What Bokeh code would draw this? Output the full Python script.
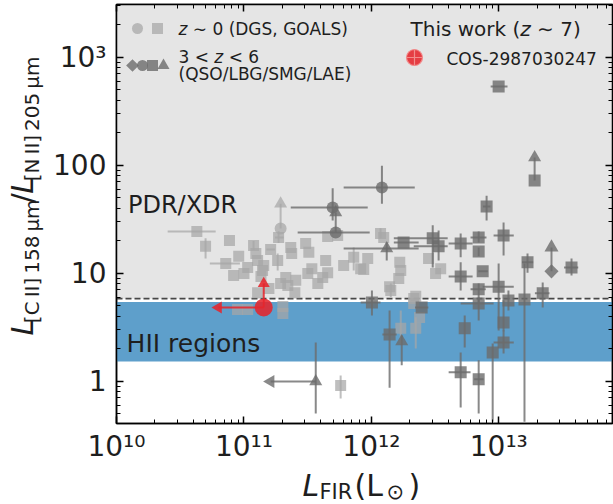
import math
import numpy as np
from bokeh.plotting import figure
from bokeh.layouts import row, column
from bokeh.models import (Range1d, LinearScale, LogAxis, FixedTicker, CustomJSTickFormatter,
                          BoxAnnotation, Span, Label)
from bokeh.embed import file_html
from bokeh.resources import INLINE

nan = float("nan")

# ---------------- data ----------------
# z ~ 0 : GOALS (light squares)
goals_x = [4.27e10, 5.0e10, 7.7e10, 9.1e10, 7.2e10, 8.3e10, 1.0e11, 1.07e11, 1.19e11, 1.24e11,
           1.28e11, 1.43e11, 1.40e11, 1.36e11, 1.62e11, 1.84e11, 1.87e11, 2.33e11, 2.37e11, 2.13e11,
           1.94e11, 2.21e11, 2.55e11, 2.51e11, 3.05e11, 3.23e11, 3.41e11, 3.17e11, 3.80e11, 4.38e11,
           4.54e11, 4.15e11, 6.06e11, 7.27e11, 8.24e11, 9.36e11, 8.71e11, 1.28e11, 1.57e11, 8.9e10,
           1.07e11, 2.02e11, 2.02e11, 4.54e11, 5.44e11, 1.18e12, 1.25e12, 1.67e12, 1.70e12, 1.64e12,
           1.39e12, 1.42e12, 2.81e12, 3.19e12, 3.50e12, 2.15e12, 2.23e12, 2.15e12, 2.39e12, 2.23e12,
           1.70e12, 5.74e11]
goals_y = [24.3, 17.7, 20.1, 14.3, 12.3, 9.5, 9.9, 11.3, 18.0, 15.2,
           13.1, 11.8, 10.6, 9.3, 16.6, 13.1, 21.4, 17.3, 15.2, 9.1,
           8.0, 7.7, 8.6, 6.6, 18.8, 15.6, 11.0, 9.9, 8.0, 13.1,
           10.1, 9.1, 11.8, 14.0, 11.0, 13.7, 10.8, 6.6, 7.2, 4.61,
           4.61, 4.92, 4.24, 21.9, 22.3, 23.3, 21.4, 12.6, 10.6, 8.9,
           7.5, 6.9, 13.7, 9.9, 11.0, 5.83, 6.1, 5.24, 3.89, 3.08,
           3.08, 0.91]
goals_xerr = {0: (2.52e10, 6.0e10), 4: (5.4e10, 9.3e10), 14: (1.5e11, 1.75e11), 16: (1.75e11, 2.05e11)}
goals_yerr = {1: (13.7, 21.0), 8: (16.4, 19.8), 15: (10.6, 15.2), 16: (19.0, 24.5), 33: (10.6, 17.3),
              45: (21.0, 26.0), 51: (6.0, 8.0), 59: (2.0, 3.9), 60: (2.2, 4.5), 61: (0.69, 1.13)}

# z ~ 0 : DGS (light circle, lower limit)
dgs_x = [1.94e11]
dgs_y = [25.9]
dgs_ylim_to = [44.0]

# 3 < z < 6 : SMG (dark squares)
smg_x = [9.97e12, 1.91e13, 8.02e12, 1.79e12, 3.03e12, 3.37e12, 5.02e12, 6.95e12, 6.95e12, 1.09e13,
         1.68e13, 3.72e13, 5.02e12, 7.47e12, 6.95e12, 6.95e12, 9.97e12, 1.19e13, 1.59e13, 2.21e13,
         1.09e13, 1.09e13, 8.95e12, 5.4e12, 5.02e12, 6.95e12, 2.48e12, 1.39e12, 1.01e12]
smg_y = [535, 72, 41.5, 19.2, 21.0, 17.7, 18.8, 21.4, 15.9, 22.3,
         12.6, 11.3, 9.3, 10.4, 7.1, 5.24, 7.5, 5.58, 5.71, 6.5,
         3.49, 2.28, 1.84, 3.08, 1.21, 1.04, 4.81, 2.70, 5.35]
smg_xlo = [8.63e12, nan, 7.5e12, 1.50e12, 1.50e12, 2.15e12, 4.04e12, 6.0e12, nan, 9.1e12,
           1.52e13, 3.25e13, 4.04e12, 6.9e12, 6.0e12, 5.02e12, 7.47e12, nan, nan, 1.92e13,
           nan, 9.1e12, nan, nan, 4.04e12, 6.4e12, 2.2e12, 1.22e12, 8.24e11]
smg_xhi = [1.17e13, nan, 8.6e12, 2.35e12, 3.97e12, 3.97e12, 6.23e12, 8.0e12, nan, 1.31e13,
           1.86e13, 4.2e13, 6.23e12, 8.2e12, 7.9e12, 9.1e12, 1.31e13, nan, nan, 2.5e13,
           nan, 1.31e13, nan, nan, 6.0e12, 7.6e12, 2.8e12, 1.58e12, 1.18e12]
smg_ylo = [nan, nan, 30.8, nan, 11.3, 13.1, 14.0, 19.2, 14.3, 14.6,
           10.1, 9.5, 6.9, nan, 5.24, 3.65, 2.95, 4.5, 0.42, 4.8,
           2.9, 1.80, 0.42, 2.05, 0.57, 0.50, nan, 0.87, 4.05]
smg_yhi = [nan, nan, 52, nan, 27.7, 24.8, 23.3, 24.3, 17.3, 29.5,
           15.2, 13.7, 12.6, nan, 8.0, 5.96, 12.3, 6.9, 12.3, 8.2,
           5.6, 2.95, 2.23, 4.05, 1.84, 1.56, nan, 4.51, 6.9]
smg_ylim_to = {1: 118.0}

# 3 < z < 6 : LBG (dark circles)
lbg_x = [1.21e12, 4.97e11, 5.25e11]
lbg_y = [62, 40.6, 23.8]
lbg_xlo = [6.06e11, 2.33e11, 2.64e11]
lbg_xhi = [2.19e12, 9.36e11, 9.7e11]
lbg_ylo = [44, 30.8, nan]
lbg_yhi = [99, 61, nan]
lbg_ylim_to = {2: 36.5}

# 3 < z < 6 : LAE (dark triangles)
lae_x = [1.32e12, 1.73e12, 3.66e11]
lae_y = [16.9, 2.33, 0.99]
lae_xlo = [6.06e11, nan, nan]
lae_xhi = [2.35e12, nan, nan]
lae_ylo = [13.1, 1.40, 0.50]
lae_yhi = [19.2, 2.65, 2.28]
lae_xlim_to = {2: 1.62e11}

# 3 < z < 6 : QSO (dark diamond)
qso_x = [2.59e13]
qso_y = [10.4]
qso_ylim_to = [17.3]

# This work (z ~ 7)
cos_x = [1.43e11]
cos_y = [4.81]
cos_ylim_to = [8.0]
cos_xlim_to = [6.3e10]

# regions
pdr_bottom = 5.8
hii_bottom, hii_top = 1.52, 5.4

x_major = [1e10, 1e11, 1e12, 1e13]
y_major = [1, 10, 100, 1000]

# ---------------- styling / layout ----------------
FONT = "DejaVu Sans"
LIGHT, LIGHT_A = "#a6a6a6", 0.72
DARK, DARK_A = "#6c6c6c", 0.8
RED, RED_A = "#e5262c", 0.88
TXT = "#1e1e1e"
MID = 0.35   # baseline -> vertical middle of text box, in em

W, H = 613, 504
YT_W = 46          # strip for the y-axis title
XT_H = 39          # strip for the x-axis title
MAIN_H = H - XT_H

p = figure(width=W - YT_W, height=MAIN_H, x_axis_type="log", y_axis_type="log",
           x_range=Range1d(1e10, 7.8e13), y_range=Range1d(0.405, 3077),
           output_backend="svg", toolbar_location=None,
           min_border_left=116 - YT_W, min_border_right=1, min_border_top=4,
           min_border_bottom=MAIN_H - 423)
p.xgrid.visible = False
p.ygrid.visible = False
p.outline_line_color = "black"
p.outline_line_width = 1.5
p.background_fill_color = "white"
p.border_fill_color = "white"

# pixel-space range (picture coordinates) for the legend
p.extra_x_ranges = {"px": Range1d(116, 612)}
p.extra_y_ranges = {"px": Range1d(423, 4)}
p.extra_x_scales = {"px": LinearScale()}
p.extra_y_scales = {"px": LinearScale()}

x_minor = [k * 10.0 ** n for n in range(9, 14) for k in range(2, 10)]
y_minor = [k * 10.0 ** n for n in range(-1, 4) for k in range(2, 10)]

sup_js = """
const sup = {"0":"\\u2070","1":"\\u00b9","2":"\\u00b2","3":"\\u00b3","4":"\\u2074",
             "5":"\\u2075","6":"\\u2076","7":"\\u2077","8":"\\u2078","9":"\\u2079","-":"\\u207b"};
const e = Math.round(Math.log10(tick));
"""
xfmt = CustomJSTickFormatter(code=sup_js + 'return "10" + String(e).split("").map(c => sup[c]).join("");')
yfmt = CustomJSTickFormatter(code=sup_js + 'if (e < 3) { return String(Math.round(tick)); } '
                                         'return "10" + String(e).split("").map(c => sup[c]).join("");')


def style_axis(ax, show_labels=True):
    ax.axis_line_color = "black"
    ax.axis_line_width = 1.5
    ax.major_tick_in = 7
    ax.major_tick_out = 0
    ax.minor_tick_in = 4
    ax.minor_tick_out = 0
    ax.major_tick_line_width = 1.5
    ax.minor_tick_line_width = 1.0
    ax.major_tick_line_color = "black"
    ax.minor_tick_line_color = "black"
    if show_labels:
        ax.major_label_text_font = FONT
        ax.major_label_text_font_size = "28px"
        ax.major_label_text_color = TXT
    else:
        ax.major_label_text_font_size = "1px"
        ax.major_label_text_alpha = 0.0
        ax.major_label_standoff = 0


p.xaxis[0].ticker = FixedTicker(ticks=x_major, minor_ticks=x_minor)
p.xaxis[0].formatter = xfmt
p.yaxis[0].ticker = FixedTicker(ticks=y_major, minor_ticks=y_minor)
p.yaxis[0].formatter = yfmt
style_axis(p.xaxis[0])
style_axis(p.yaxis[0])
p.xaxis[0].major_label_standoff = 6
p.yaxis[0].major_label_standoff = 10

top_ax = LogAxis(ticker=FixedTicker(ticks=x_major, minor_ticks=x_minor))
right_ax = LogAxis(ticker=FixedTicker(ticks=y_major, minor_ticks=y_minor))
style_axis(top_ax, False)
style_axis(right_ax, False)
p.add_layout(top_ax, "above")
p.add_layout(right_ax, "right")

# regions
p.add_layout(BoxAnnotation(bottom=pdr_bottom, fill_color="#e5e5e5", fill_alpha=1.0,
                           line_alpha=0, level="underlay"))
p.add_layout(BoxAnnotation(bottom=hii_bottom, top=hii_top, fill_color="#5e9fcb", fill_alpha=1.0,
                           line_alpha=0, level="underlay"))
p.add_layout(Span(location=pdr_bottom, dimension="width", line_color="#474747",
                  line_width=1.8, line_dash="6 3", level="underlay"))


def arr(a):
    return np.array(a, dtype=float)


def err_from_dict(n, d):
    lo = np.full(n, np.nan)
    hi = np.full(n, np.nan)
    for i, (a, b) in d.items():
        lo[i], hi[i] = a, b
    return lo, hi


def draw(x, y, xlo, xhi, ylo, yhi, marker, size, color, alpha, angle=0.0, lw=2):
    x, y = arr(x), arr(y)
    p.segment(x0=arr(xlo), y0=y, x1=arr(xhi), y1=y, line_color=color, line_alpha=alpha, line_width=lw)
    p.segment(x0=x, y0=arr(ylo), x1=x, y1=arr(yhi), line_color=color, line_alpha=alpha, line_width=lw)
    p.scatter(x, y, marker=marker, size=size, fill_color=color, fill_alpha=alpha,
              line_color=None, angle=angle)


def arrows(x, y, xto, yto, color, alpha, size=13, lw=2):
    x, y, xto, yto = arr(x), arr(y), arr(xto), arr(yto)
    ang = np.where(xto < x, math.pi / 2, 0.0)
    p.segment(x0=x, y0=y, x1=xto, y1=yto, line_color=color, line_alpha=alpha, line_width=lw)
    p.scatter(xto, yto, marker="triangle", size=size, angle=ang, fill_color=color,
              fill_alpha=alpha, line_color=None)


# z ~ 0
n = len(goals_x)
gxlo, gxhi = err_from_dict(n, goals_xerr)
gylo, gyhi = err_from_dict(n, goals_yerr)
draw(goals_x, goals_y, gxlo, gxhi, gylo, gyhi, "square", 11, LIGHT, LIGHT_A)
arrows(dgs_x, dgs_y, dgs_x, dgs_ylim_to, LIGHT, LIGHT_A)
draw(dgs_x, dgs_y, [nan], [nan], [nan], [nan], "circle", 12, LIGHT, LIGHT_A)

# 3 < z < 6
draw(smg_x, smg_y, smg_xlo, smg_xhi, smg_ylo, smg_yhi, "square", 12, DARK, DARK_A)
ax_ = [smg_x[i] for i in smg_ylim_to]
ay_ = [smg_y[i] for i in smg_ylim_to]
arrows(ax_, ay_, ax_, list(smg_ylim_to.values()), DARK, DARK_A)

draw(lbg_x, lbg_y, lbg_xlo, lbg_xhi, lbg_ylo, lbg_yhi, "circle", 12, DARK, DARK_A)
bx_ = [lbg_x[i] for i in lbg_ylim_to]
by_ = [lbg_y[i] for i in lbg_ylim_to]
arrows(bx_, by_, bx_, list(lbg_ylim_to.values()), DARK, DARK_A)

draw(lae_x, lae_y, lae_xlo, lae_xhi, lae_ylo, lae_yhi, "triangle", 13, DARK, DARK_A)
lx_ = [lae_x[i] for i in lae_xlim_to]
ly_ = [lae_y[i] for i in lae_xlim_to]
arrows(lx_, ly_, list(lae_xlim_to.values()), ly_, DARK, DARK_A)

arrows(qso_x, qso_y, qso_x, qso_ylim_to, DARK, DARK_A, size=14)
draw(qso_x, qso_y, [nan], [nan], [nan], [nan], "square", 10, DARK, DARK_A, angle=math.pi / 4)

# This work
arrows(cos_x, cos_y, cos_x, cos_ylim_to, RED, RED_A, size=12)
arrows(cos_x, cos_y, cos_xlim_to, cos_y, RED, RED_A, size=12)
p.scatter(arr(cos_x), arr(cos_y), marker="circle", size=18, fill_color=RED, fill_alpha=RED_A,
          line_color=None)

# region texts (data coordinates)
p.add_layout(Label(x=1.23e10, y=43.0, text="PDR/XDR", text_font=FONT, text_font_size="24px",
                   text_color=TXT, text_baseline="middle"))
p.add_layout(Label(x=1.2e10, y=2.23, text="HII regions", text_font=FONT, text_font_size="25px",
                   text_color=TXT, text_baseline="middle"))


def lab(fig, text, x, base, size, italic=False, color=TXT, px=True):
    """Horizontal text; `base` is the wanted baseline (picture pixels)."""
    kw = dict(x_range_name="px", y_range_name="px") if px else {}
    fig.add_layout(Label(x=x, y=base - MID * size, text=text, text_font=FONT,
                         text_font_size=f"{size}px",
                         text_font_style="italic" if italic else "normal",
                         text_color=color, text_baseline="middle", text_align="left", **kw))


def vlab(fig, text, base_x, start_y, length, size, italic=False, color=TXT):
    """Text rotated by 90 degrees (reads upward), centred on its own box."""
    fig.add_layout(Label(x=base_x - MID * size, y=start_y - length / 2, text=text, text_font=FONT,
                         text_font_size=f"{size}px",
                         text_font_style="italic" if italic else "normal",
                         text_color=color, angle=math.pi / 2, text_baseline="middle",
                         text_align="center"))


# legend (left)
def leg_marker(x, y, marker, size, color, alpha, angle=0.0):
    p.scatter([x], [y], x_range_name="px", y_range_name="px", marker=marker, size=size,
              fill_color=color, fill_alpha=alpha, line_color=None, angle=angle)


FS = 17
SP = 0.318
leg_marker(137, 28, "circle", 11, LIGHT, LIGHT_A)
leg_marker(157, 28, "square", 11, LIGHT, LIGHT_A)
leg_marker(132, 65, "square", 9, DARK, DARK_A, math.pi / 4)
leg_marker(142, 65, "circle", 11, DARK, DARK_A)
leg_marker(152, 65, "square", 11, DARK, DARK_A)
leg_marker(163, 65, "triangle", 12, DARK, DARK_A)
lab(p, "z", 178, 34, FS, italic=True)
lab(p, "\u223c 0 (DGS, GOALS)", 178 + (0.521 + SP) * FS, 34, FS)
lab(p, "3 <", 178, 62, FS)
lab(p, "z", 178 + 2.11 * FS, 62, FS, italic=True)
lab(p, "< 6", 178 + (2.11 + 0.521 + SP) * FS, 62, FS)
lab(p, "(QSO/LBG/SMG/LAE)", 178, 79, FS)

# legend (right)
TF = 20
lab(p, "This work (", 410, 35, TF)
lab(p, "z", 410 + 5.49 * TF, 35, TF, italic=True)
lab(p, "\u223c 7)", 410 + (5.49 + 0.521 + SP) * TF, 35, TF)
p.scatter([414], [57], x_range_name="px", y_range_name="px", marker="circle_cross", size=16,
          fill_color=RED, fill_alpha=RED_A, line_color="#f28b8b", line_width=1.2)
lab(p, "COS-2987030247", 446, 64, FS)


# ---------------- axis-title strips (pixel coordinates of the picture) ----------------
def strip(width, height, xr, yr):
    f = figure(width=width, height=height, x_range=Range1d(*xr), y_range=Range1d(*yr),
               output_backend="svg", toolbar_location=None,
               x_axis_location=None, y_axis_location=None, min_border=0)
    f.xgrid.visible = False
    f.ygrid.visible = False
    f.outline_line_color = None
    f.background_fill_color = "white"
    f.border_fill_color = "white"
    return f


ytitle = strip(YT_W, MAIN_H, (0, YT_W), (MAIN_H, 0))
xtitle = strip(W, XT_H, (0, W), (H, MAIN_H))

MF, SF = 30, 20
L_W, SLASH_W = 0.557 * MF + 1, 0.337 * MF + 1
SUB1_W, SUB2_W = 6.186 * SF * 1.04, 6.236 * SF * 1.04
y0 = 367
vlab(ytitle, "L", 32, y0, L_W, MF, italic=True)
y0 -= L_W
vlab(ytitle, "[C\u2009II]\u2009158\u2009\u03bcm", 38, y0, SUB1_W, SF)
y0 -= SUB1_W
vlab(ytitle, "/", 32, y0, SLASH_W, MF)
y0 -= SLASH_W
vlab(ytitle, "L", 32, y0, L_W, MF, italic=True)
y0 -= L_W
vlab(ytitle, "[N\u2009II]\u2009205\u2009\u03bcm", 38, y0, SUB2_W, SF)

lab(xtitle, "L", 302, 495, MF, italic=True, px=False)
lab(xtitle, "FIR", 319, 499, 21, px=False)
lab(xtitle, "(L", 354, 495, MF, px=False)
lab(xtitle, "\u2299", 386, 499, 21, px=False)
lab(xtitle, ")", 408, 495, MF, px=False)

layout = column(row(ytitle, p, spacing=0), xtitle, spacing=0)
open("out.html", "w").write(file_html(layout, INLINE))
